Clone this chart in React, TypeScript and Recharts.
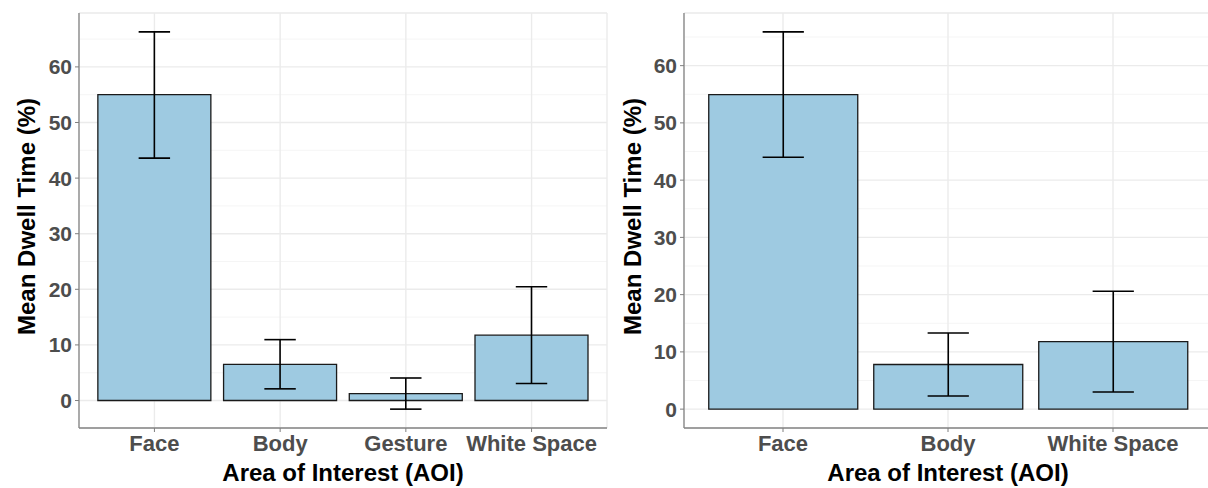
import { Bar, BarChart, CartesianGrid, ErrorBar, XAxis, YAxis } from "recharts";

// mean dwell time (%) per AOI, with CI bounds
const leftCategories = ["Face", "Body", "Gesture", "White Space"];
const leftMeans = [55.0, 6.5, 1.25, 11.75];
const leftLower = [43.6, 2.1, -1.55, 3.05];
const leftUpper = [66.3, 10.95, 4.05, 20.45];

const rightCategories = ["Face", "Body", "White Space"];
const rightMeans = [54.95, 7.8, 11.8];
const rightLower = [44.0, 2.3, 3.0];
const rightUpper = [65.9, 13.3, 20.6];

const majorTicks = [0, 10, 20, 30, 40, 50, 60];
const minorTicks = [5, 15, 25, 35, 45, 55, 65];

const FONT = "'Liberation Sans', Arial, sans-serif";
const BORDER = "#858585";

type PanelProps = {
  categories: string[];
  means: number[];
  lower: number[];
  upper: number[];
  width: number;
  axisWidth: number;
  marginRight: number;
  labelOffset: number;
};

function DwellPanel({ categories, means, lower, upper, width, axisWidth, marginRight, labelOffset }: PanelProps) {
  const data = categories.map((aoi, i) => ({
    aoi,
    mean: means[i],
    err: [means[i] - lower[i], upper[i] - means[i]],
  }));

  // ggplot-style 5% expansion of the data range
  const lo = Math.min(0, ...lower);
  const hi = Math.max(...upper);
  const ext = (hi - lo) * 0.05;
  const domain = [lo - ext, hi + ext];

  const plotWidth = width - axisWidth - marginRight;
  const unit = plotWidth / (categories.length + 0.2);
  const pad = { left: unit * 0.1, right: unit * 0.1 };

  return (
    <BarChart
      width={width}
      height={488}
      data={data}
      barCategoryGap="5%"
      margin={{ top: 13, right: marginRight, bottom: 0, left: 0 }}
      style={{ fontFamily: FONT }}
    >
      <CartesianGrid yAxisId="minor" vertical={false} stroke="#F3F3F3" strokeWidth={0.8} />
      <CartesianGrid stroke="#EBEBEB" strokeWidth={1.4} />
      <XAxis
        dataKey="aoi"
        height={60}
        padding={pad}
        tickSize={4}
        tickMargin={3}
        tickLine={{ stroke: "#7f7f7f" }}
        axisLine={{ stroke: BORDER, strokeWidth: 1.3 }}
        tick={{ fill: "#4D4D4D", fontSize: 22, fontWeight: 700 }}
        label={{
          value: "Area of Interest (AOI)",
          position: "insideBottom",
          offset: 7,
          style: { fill: "#000", fontSize: 24, fontWeight: 700 },
        }}
      />
      <XAxis
        xAxisId="top"
        dataKey="aoi"
        orientation="top"
        height={0}
        padding={pad}
        tick={false}
        tickLine={false}
        axisLine={{ stroke: BORDER, strokeWidth: 1.3 }}
      />
      <YAxis
        type="number"
        domain={domain}
        ticks={majorTicks}
        allowDataOverflow
        width={axisWidth}
        tickSize={4}
        tickMargin={3}
        tickLine={{ stroke: "#7f7f7f" }}
        axisLine={{ stroke: BORDER, strokeWidth: 1.3 }}
        tick={{ fill: "#4D4D4D", fontSize: 21, fontWeight: 700 }}
        label={{
          value: "Mean Dwell Time (%)",
          angle: -90,
          position: "insideLeft",
          offset: labelOffset,
          dy: -4,
          style: { textAnchor: "middle", fill: "#000", fontSize: 24, fontWeight: 700 },
        }}
      />
      <YAxis yAxisId="minor" type="number" hide domain={domain} ticks={minorTicks} allowDataOverflow />
      <YAxis
        yAxisId="right"
        type="number"
        orientation="right"
        width={0}
        domain={domain}
        allowDataOverflow
        tick={false}
        tickLine={false}
        axisLine={{ stroke: BORDER, strokeWidth: 1.3 }}
      />
      <Bar dataKey="mean" fill="#9ECAE1" stroke="#1a1a1a" strokeWidth={1.3} isAnimationActive={false}>
        <ErrorBar
          dataKey="err"
          direction="y"
          width={unit * 0.125}
          stroke="#000"
          strokeWidth={1.6}
          isAnimationActive={false}
        />
      </Bar>
    </BarChart>
  );
}

export default function App() {
  return (
    <div
      style={{
        position: "absolute",
        left: 0,
        top: 0,
        width: 1208,
        height: 488,
        overflow: "hidden",
        background: "#fff",
      }}
    >
      <div style={{ position: "absolute", left: 0, top: 0 }}>
        <DwellPanel
          categories={leftCategories}
          means={leftMeans}
          lower={leftLower}
          upper={leftUpper}
          width={608}
          axisWidth={79}
          marginRight={1}
          labelOffset={26}
        />
      </div>
      <div style={{ position: "absolute", left: 608, top: 0 }}>
        <DwellPanel
          categories={rightCategories}
          means={rightMeans}
          lower={rightLower}
          upper={rightUpper}
          width={604}
          axisWidth={76}
          marginRight={0}
          labelOffset={24}
        />
      </div>
    </div>
  );
}
